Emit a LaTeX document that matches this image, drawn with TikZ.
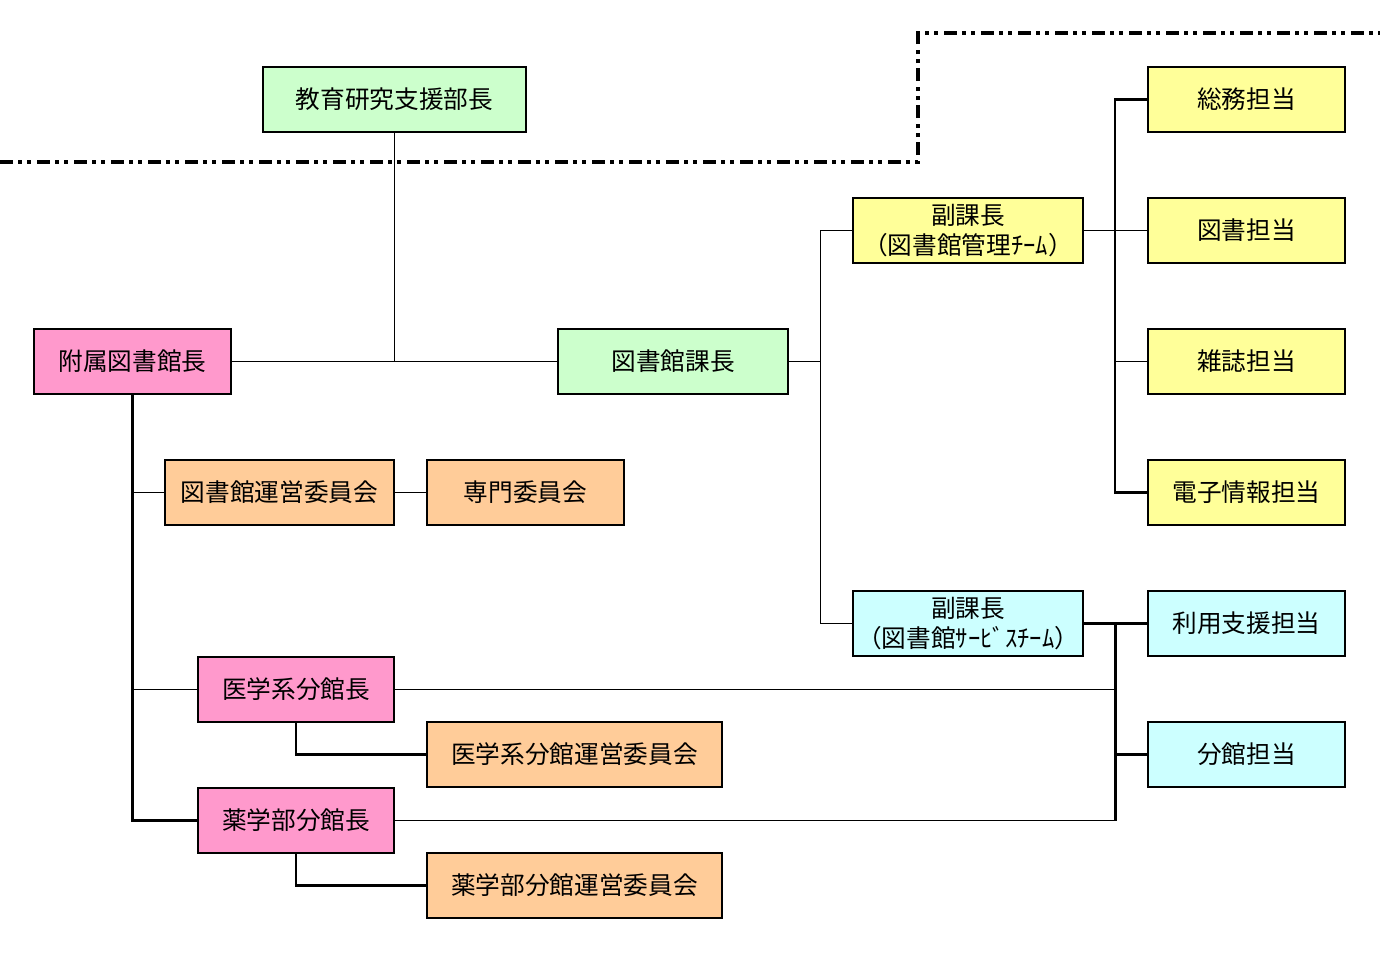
\documentclass[tikz,border=0pt]{standalone}
\usepackage{fontspec}
\newfontfamily\jpfont{Noto Sans CJK JP}
\usetikzlibrary{calc}
\definecolor{cgreen}{HTML}{CCFFCC}
\definecolor{cpink}{HTML}{FF99CC}
\definecolor{cyellow}{HTML}{FFFF99}
\definecolor{corange}{HTML}{FFCC99}
\definecolor{ccyan}{HTML}{CCFFFF}

\begin{document}
\begin{tikzpicture}[
  x=0.6pt, y=-0.6pt,
  box/.style={draw, line width=0.9pt, minimum height=39pt, inner sep=0pt,
              font=\jpfont\fontsize{14.8}{18}\selectfont, align=center},
  ln/.style={line width=0.75pt},
  tree/.style={line width=1.3pt},
  border/.style={line width=2.4pt,
                 dash pattern=on 7.8pt off 3pt on 2.4pt off 3pt on 2.4pt off 3.6pt}
]
\useasboundingbox (0,0) rectangle (1380,952);

%--- dividing line -----------------------------------------------------------
\draw[border] (0,162) -- (918,162) -- (918,33) -- (1380,33);

%--- heads -------------------------------------------------------------------
\node[box, fill=cgreen, minimum width=157.8pt] (bucho) at (394.5,99.5) {教育研究支援部長};
\node[box, fill=cpink, minimum width=118.2pt] (kancho) at (132.5,361.5) {附属図書館長};
\node[box, fill=cgreen, minimum width=138pt] (kacho) at (673,361.5) {図書館課長};
\node[box, fill=cyellow, minimum width=138pt] (fuku1) at (968,230.5)
  {副課長\\（図書館管理ﾁｰﾑ）};
\node[box, fill=ccyan, minimum width=138pt] (fuku2) at (968,623.5)
  {副課長\\（図書館ｻｰﾋﾞｽﾁｰﾑ）};

%--- sections ----------------------------------------------------------------
\node[box, fill=cyellow, minimum width=118.2pt] (somu) at (1246.5,99.5) {総務担当};
\node[box, fill=cyellow, minimum width=118.2pt] (tosho) at (1246.5,230.5) {図書担当};
\node[box, fill=cyellow, minimum width=118.2pt] (zasshi) at (1246.5,361.5) {雑誌担当};
\node[box, fill=cyellow, minimum width=118.2pt] (denshi) at (1246.5,492.5) {電子情報担当};
\node[box, fill=ccyan, minimum width=118.2pt] (riyo) at (1246.5,623.5) {利用支援担当};
\node[box, fill=ccyan, minimum width=118.2pt] (bunkan) at (1246.5,754.5) {分館担当};

%--- committees and branches -------------------------------------------------
\node[box, fill=corange, minimum width=137.4pt] (unei) at (279.5,492.5) {図書館運営委員会};
\node[box, fill=corange, minimum width=118.2pt] (senmon) at (525.5,492.5) {専門委員会};
\node[box, fill=cpink, minimum width=117.6pt] (igaku) at (296,689.5) {医学系分館長};
\node[box, fill=corange, minimum width=177pt] (igakuunei) at (574.5,754.5) {医学系分館運営委員会};
\node[box, fill=cpink, minimum width=117.6pt] (yaku) at (296,820.5) {薬学部分館長};
\node[box, fill=corange, minimum width=177pt] (yakuunei) at (574.5,885.5) {薬学部分館運営委員会};

%--- connectors --------------------------------------------------------------
\draw[ln] (bucho.south) -- (bucho.south |- kancho.east);
\draw[ln] (kancho.east) -- (kacho.west);
\draw[ln] (kacho.east) -- ++(32,0) |- (fuku1.west);
\draw[ln] (kacho.east) ++(32,0) |- (fuku2.west);
\draw[tree] (somu.west) -- ++(-32,0) |- (denshi.west);
\draw[ln] (fuku1.east) -- (tosho.west);
\draw[ln] (zasshi.west) -- ++(-32,0);
\coordinate (jb) at ($(fuku2.east)!0.5!(riyo.west)$);
\draw[tree] (fuku2.east) -- (riyo.west);
\draw[tree] (jb) -- (jb |- yaku.east);
\draw[tree] (jb |- bunkan.west) -- (bunkan.west);
\draw[ln] (igaku.east) -- (jb |- igaku.east);
\draw[ln] (yaku.east) -- (jb |- yaku.east);
\draw[tree] (kancho.south) |- (yaku.west);
\draw[ln] (kancho.south |- unei.west) -- (unei.west);
\draw[ln] (kancho.south |- igaku.west) -- (igaku.west);
\draw[ln] (unei.east) -- (senmon.west);
\draw[tree] (igaku.south) |- (igakuunei.west);
\draw[tree] (yaku.south) |- (yakuunei.west);
\end{tikzpicture}
\end{document}
